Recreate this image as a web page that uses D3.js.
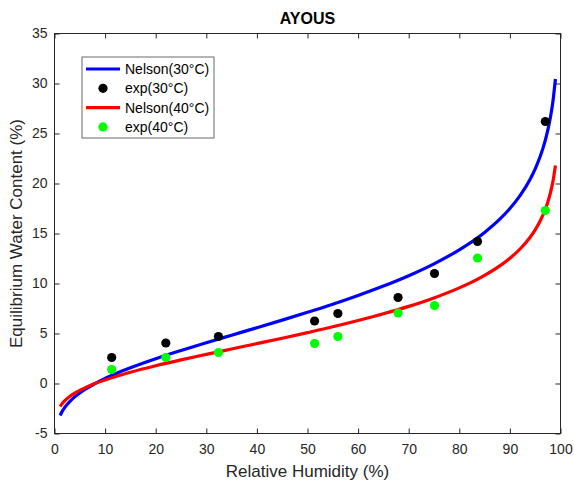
<!DOCTYPE html>
<html>
<head>
<meta charset="utf-8">
<script src="https://d3js.org/d3.v7.min.js"></script>
<style>
body { margin: 0; background: #fff; }
text { font-family: "Liberation Sans", Arial, sans-serif; fill: #262626; }
.axis path, .axis line { stroke: #262626; }
</style>
</head>
<body>
<svg width="574" height="484"></svg>
<script>

// Nelson model curves
var rhCurve = [1.1, 1.5, 2, 3, 4, 5, 6, 8, 10, 12, 15, 20, 25, 30, 35, 40, 45, 50, 55, 60, 65, 70, 75, 80, 85, 88, 90, 92, 94, 95, 96, 97, 97.5, 98, 98.5, 99];
var nelson30 = [-3.20, -2.81, -2.42, -1.81, -1.34, -0.95, -0.60, -0.01, 0.51, 0.96, 1.57, 2.48, 3.30, 4.08, 4.83, 5.58, 6.34, 7.12, 7.93, 8.80, 9.74, 10.78, 11.97, 13.37, 15.11, 16.43, 17.50, 18.79, 20.43, 21.47, 22.72, 24.34, 25.36, 26.60, 28.20, 30.45];
var nelson40 = [-2.30, -2.02, -1.74, -1.31, -0.97, -0.69, -0.44, -0.01, 0.35, 0.68, 1.12, 1.77, 2.36, 2.91, 3.45, 3.99, 4.53, 5.09, 5.67, 6.30, 6.97, 7.71, 8.56, 9.56, 10.82, 11.76, 12.53, 13.45, 14.63, 15.37, 16.27, 17.42, 18.15, 19.05, 20.19, 21.80];

// experimental points
var rhExp = [11.3, 22, 32.4, 51.4, 56, 67.9, 75.1, 83.6, 97.0];
var exp30 = [2.6, 4.05, 4.7, 6.25, 7.0, 8.6, 11.0, 14.2, 26.2];
var exp40 = [1.4, 2.6, 3.1, 4.0, 4.7, 7.05, 7.8, 12.55, 17.3];

var xTicks = [0, 10, 20, 30, 40, 50, 60, 70, 80, 90, 100];
var yTicks = [-5, 0, 5, 10, 15, 20, 25, 30, 35];

var legendItems = [
  {label: "Nelson(30\u00B0C)", type: "line", color: "#0000ff"},
  {label: "exp(30\u00B0C)", type: "dot", color: "#000000"},
  {label: "Nelson(40\u00B0C)", type: "line", color: "#ff0000"},
  {label: "exp(40\u00B0C)", type: "dot", color: "#00ff00"}
];

var svg = d3.select("svg");
var margin = {left: 54.5, right: 13.5, top: 33.5, bottom: 50.5};
var width = 574 - margin.left - margin.right,
    height = 484 - margin.top - margin.bottom;

var x = d3.scaleLinear().domain([0, 100]).range([0, width]);
var y = d3.scaleLinear().domain([-5, 35]).range([height, 0]);

var g = svg.append("g").attr("transform", "translate(" + margin.left + "," + margin.top + ")");

// axes with inward ticks on all four sides
g.append("g").attr("class", "axis")
    .attr("transform", "translate(0," + height + ")")
    .call(d3.axisBottom(x).tickValues(xTicks).tickSizeInner(-5).tickSizeOuter(0).tickPadding(11).tickFormat(String))
    .call(function(s) { s.selectAll("text").style("font-size", "14px").attr("dy", "0.71em"); });
g.append("g").attr("class", "axis")
    .call(d3.axisTop(x).tickValues(xTicks).tickSizeInner(-5).tickSizeOuter(0).tickFormat(""));
g.append("g").attr("class", "axis")
    .call(d3.axisLeft(y).tickValues(yTicks).tickSizeInner(-5).tickSizeOuter(0).tickPadding(7).tickFormat(String))
    .call(function(s) { s.selectAll("text").style("font-size", "14px"); });
g.append("g").attr("class", "axis")
    .attr("transform", "translate(" + width + ",0)")
    .call(d3.axisRight(y).tickValues(yTicks).tickSizeInner(-5).tickSizeOuter(0).tickFormat(""));
g.selectAll(".axis .domain").remove();
g.append("rect")
    .attr("width", width).attr("height", height)
    .attr("fill", "none").attr("stroke", "#262626").attr("stroke-width", 1);

var line = d3.line()
    .x(function(d) { return x(d[0]); })
    .y(function(d) { return y(d[1]); })
    .curve(d3.curveMonotoneX);

function drawCurve(vals, color) {
  g.append("path")
      .datum(rhCurve.map(function(r, i) { return [r, vals[i]]; }))
      .attr("fill", "none")
      .attr("stroke", color)
      .attr("stroke-width", 3.2)
      .attr("d", line);
}

function drawDots(vals, color) {
  g.append("g").selectAll("circle")
      .data(rhExp.map(function(r, i) { return [r, vals[i]]; }))
      .enter().append("circle")
      .attr("cx", function(d) { return x(d[0]); })
      .attr("cy", function(d) { return y(d[1]); })
      .attr("r", 4.6)
      .attr("fill", color);
}

drawCurve(nelson30, "#0000ff");
drawDots(exp30, "#000000");
drawCurve(nelson40, "#ff0000");
drawDots(exp40, "#00ff00");

// title and axis labels
svg.append("text")
    .attr("x", margin.left + width / 2).attr("y", 24)
    .attr("text-anchor", "middle")
    .style("font-size", "16px").style("font-weight", "bold")
    .style("fill", "#000")
    .text("AYOUS");

svg.append("text")
    .attr("x", margin.left + width / 2).attr("y", 477)
    .attr("text-anchor", "middle")
    .style("font-size", "17px")
    .text("Relative Humidity (%)");

svg.append("text")
    .attr("transform", "translate(22," + (margin.top + height / 2) + ") rotate(-90)")
    .attr("text-anchor", "middle")
    .style("font-size", "17px")
    .text("Equilibrium Water Content (%)");

// legend
var lg = svg.append("g").attr("transform", "translate(82,57)");
lg.append("rect")
    .attr("width", 132).attr("height", 81)
    .attr("fill", "#fff").attr("stroke", "#6b6b6b").attr("stroke-width", 1);

var rows = lg.selectAll("g.item")
    .data(legendItems)
    .enter().append("g")
      .attr("class", "item")
      .attr("transform", function(d, i) { return "translate(0," + (12 + i * 19.3) + ")"; });

rows.filter(function(d) { return d.type === "line"; })
  .append("line")
    .attr("x1", 4).attr("x2", 38)
    .attr("stroke", function(d) { return d.color; })
    .attr("stroke-width", 3.2);

rows.filter(function(d) { return d.type === "dot"; })
  .append("circle")
    .attr("cx", 21).attr("r", 4.6)
    .attr("fill", function(d) { return d.color; });

rows.append("text")
    .attr("x", 43).attr("dy", "0.35em")
    .style("font-size", "14px")
    .style("fill", "#000")
    .text(function(d) { return d.label; });

</script>
</body>
</html>
